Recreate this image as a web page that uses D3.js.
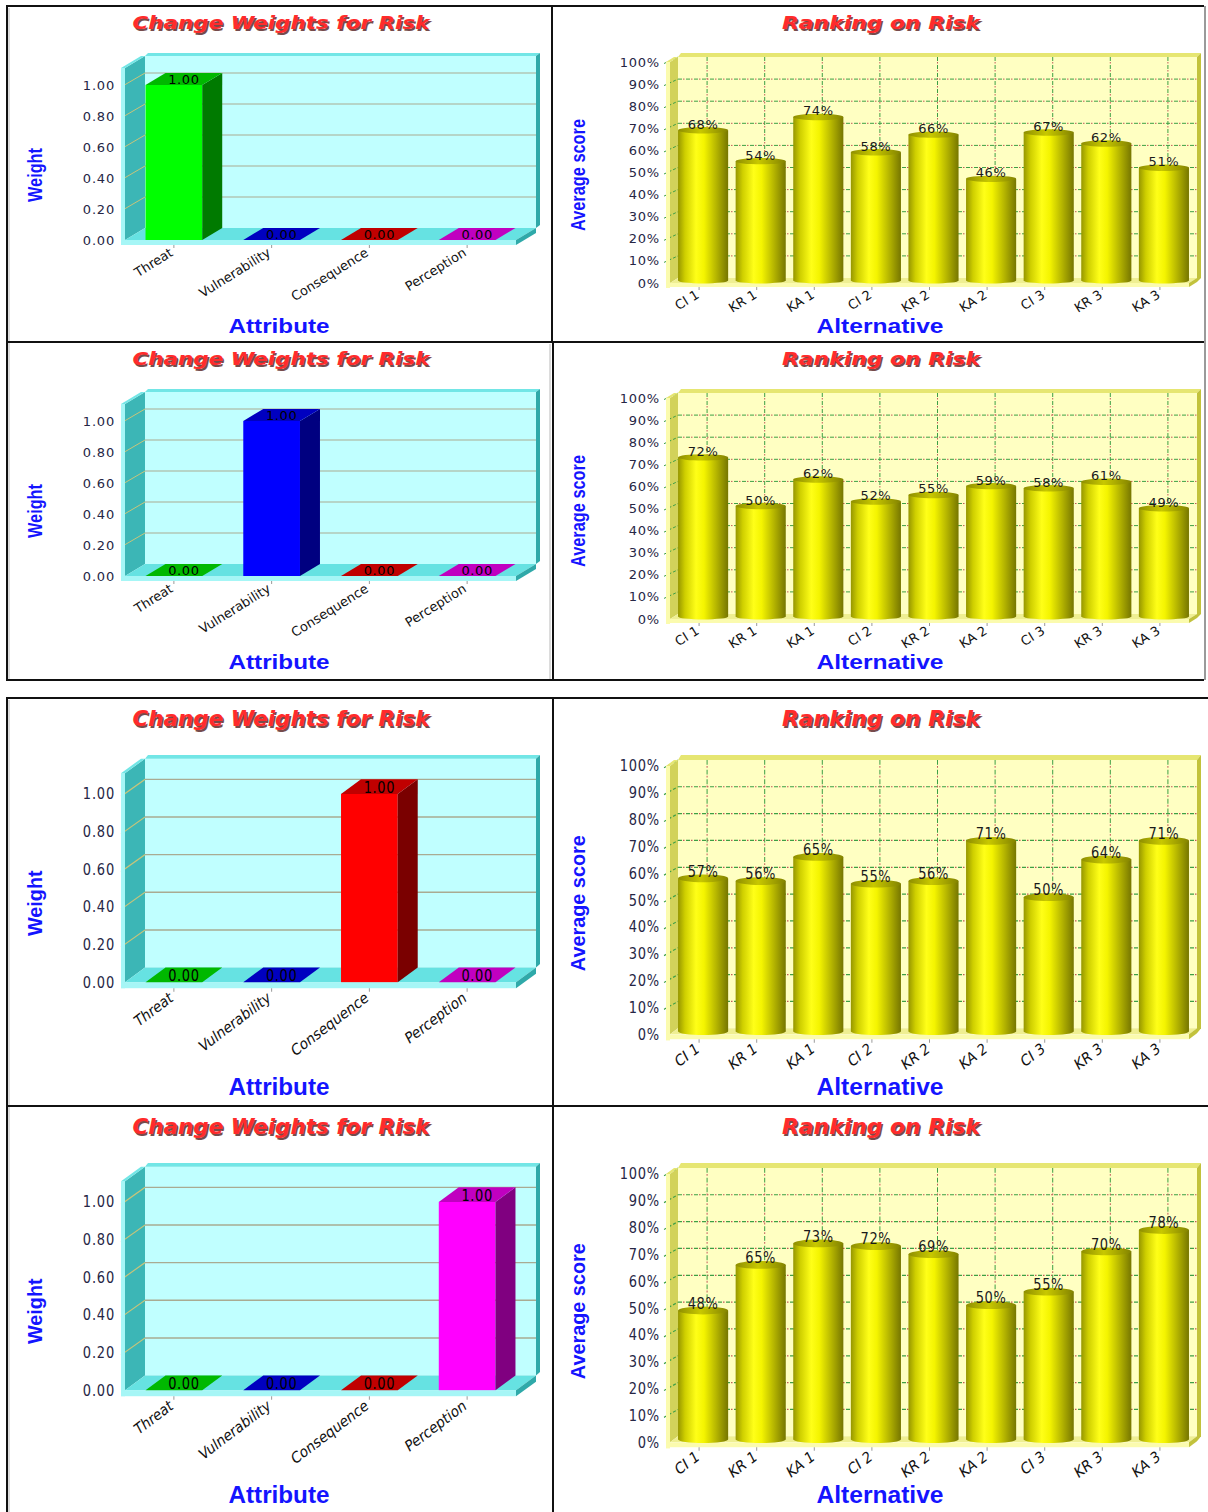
<!DOCTYPE html>
<html>
<head>
<meta charset="utf-8">
<script src="https://cdn.jsdelivr.net/npm/d3@7"></script>
<style>
  body { margin: 0; background: #ffffff; }
  svg { display: block; }
</style>
</head>
<body>
<script>
// ---------- data ----------
const attributes = ["Threat", "Vulnerability", "Consequence", "Perception"];
const weightTicks = [0, 0.2, 0.4, 0.6, 0.8, 1.0];
const alternatives = ["CI 1", "KR 1", "KA 1", "CI 2", "KR 2", "KA 2", "CI 3", "KR 3", "KA 3"];
const scoreTicks = [0, 10, 20, 30, 40, 50, 60, 70, 80, 90, 100];

// weight given to each attribute, one scenario per row
const weightsThreat        = [1, 0, 0, 0];
const weightsVulnerability = [0, 1, 0, 0];
const weightsConsequence   = [0, 0, 1, 0];
const weightsPerception    = [0, 0, 0, 1];

// resulting average score (%) of each alternative
const scoresThreat        = [68, 54, 74, 58, 66, 46, 67, 62, 51];
const scoresVulnerability = [72, 50, 62, 52, 55, 59, 58, 61, 49];
const scoresConsequence   = [57, 56, 65, 55, 56, 71, 50, 64, 71];
const scoresPerception    = [48, 65, 73, 72, 69, 50, 55, 70, 78];

const weightSeries = [weightsThreat, weightsVulnerability, weightsConsequence, weightsPerception];
const scoreSeries  = [scoresThreat, scoresVulnerability, scoresConsequence, scoresPerception];

// ---------- layout & style ----------
const rowLayout = [
  { top: 6,    sy: 1 },
  { top: 342,  sy: 1 },
  { top: 698,  sy: 408 / 336 },
  { top: 1106, sy: 408 / 336 }
];

const barColors = {
  "Threat":        { front: "#00ff00", top: "#00b800", side: "#007a00" },
  "Vulnerability": { front: "#0000ff", top: "#0000c0", side: "#000080" },
  "Consequence":   { front: "#ff0000", top: "#c00000", side: "#7a0000" },
  "Perception":    { front: "#ff00ff", top: "#c000c0", side: "#800080" }
};

const cyanBox = {
  back: "#c0ffff", left: "#3cb6b6", floor: "#66e2e2",
  slabFront: "#a6f6f6", slabTop: "#72e6e6", slabSide: "#2fa9a9", grid: "#a9ab92", leftGrid: "#c8c47a"
};
const yellowBox = {
  back: "#ffffc2", left: "#d2d25a", floor: "#efef92",
  slabFront: "#fbfbae", slabTop: "#e6e672", slabSide: "#c2c23c"
};

const titleFont = "'DejaVu Sans', sans-serif";
const labelFont = "'DejaVu Sans', sans-serif";

const svg = d3.select("body").append("svg")
  .attr("width", 1208).attr("height", 1512)
  .style("background", "#ffffff");

const defs = svg.append("defs");

// cylinder shading
const bodyGrad = defs.append("linearGradient").attr("id", "cylBody")
  .attr("x1", 0).attr("x2", 1).attr("y1", 0).attr("y2", 0);
[[0, "#969600"], [0.14, "#cfcf00"], [0.36, "#ffff18"], [0.52, "#f4f400"], [0.76, "#b6b600"], [1, "#767600"]]
  .forEach(([o, c]) => bodyGrad.append("stop").attr("offset", o).attr("stop-color", c));
const topGrad = defs.append("linearGradient").attr("id", "cylTop")
  .attr("x1", 0).attr("x2", 1).attr("y1", 0).attr("y2", 0);
[[0, "#8e8e00"], [0.45, "#c8c800"], [1, "#838300"]]
  .forEach(([o, c]) => topGrad.append("stop").attr("offset", o).attr("stop-color", c));

const poly = pts => pts.map(p => p.join(",")).join(" ");

function title(g, x, y, str, len) {
  g.append("text").attr("x", x + 1.6).attr("y", y + 1.6)
    .attr("text-anchor", "middle").attr("font-family", titleFont)
    .attr("font-weight", "bold").attr("font-style", "italic").attr("font-size", 18)
    .attr("textLength", len).attr("lengthAdjust", "spacingAndGlyphs")
    .attr("fill", "#4a1010").attr("opacity", 0.75).text(str);
  g.append("text").attr("x", x).attr("y", y)
    .attr("text-anchor", "middle").attr("font-family", titleFont)
    .attr("font-weight", "bold").attr("font-style", "italic").attr("font-size", 18)
    .attr("textLength", len).attr("lengthAdjust", "spacingAndGlyphs")
    .attr("fill", "#ff2b2b").text(str);
}

function axisTitle(g, x, y, str, len, rotate) {
  const t = g.append("text")
    .attr("text-anchor", "middle").attr("font-family", "'Liberation Sans', Arial, sans-serif")
    .attr("font-weight", "bold").attr("font-size", 20)
    .attr("textLength", len).attr("lengthAdjust", "spacingAndGlyphs")
    .attr("fill", "#1414ff").text(str);
  if (rotate) t.attr("transform", `translate(${x},${y}) rotate(-90)`);
  else t.attr("x", x).attr("y", y);
}

// ---------- left chart: weights per attribute (3D bars) ----------
function drawWeights(g, values) {
  const X0 = 125, X1 = 516, DX = 20, DY = -12, T = 4;
  const yW = d3.scaleLinear().domain([0, 1]).range([234, 79]);
  const xA = d3.scaleBand().domain(attributes).range([X0, X1]).paddingInner(0.42).paddingOuter(0.21);
  const yTop = yW(1.11), y0 = yW(0);
  const c = cyanBox;

  title(g, 281, 23, "Change Weights for Risk", 297);

  // back wall
  g.append("rect").attr("x", X0 + DX).attr("y", yTop + DY)
    .attr("width", X1 - X0).attr("height", y0 - yTop).attr("fill", c.back);
  // back wall slab: top and right faces
  g.append("polygon").attr("fill", c.slabTop).attr("points", poly([
    [X0 + DX, yTop + DY], [X0 + DX + 3, yTop + DY - 3], [X1 + DX + 4, yTop + DY - 3], [X1 + DX, yTop + DY]]));
  g.append("polygon").attr("fill", c.slabSide).attr("points", poly([
    [X1 + DX, yTop + DY], [X1 + DX + 4, yTop + DY - 3], [X1 + DX + 4, y0 + DY - 3], [X1 + DX, y0 + DY]]));

  // grid on back wall
  weightTicks.filter(t => t > 0).forEach(t => {
    g.append("line").attr("x1", X0 + DX).attr("x2", X1 + DX)
      .attr("y1", yW(t) + DY).attr("y2", yW(t) + DY)
      .attr("stroke", c.grid).attr("stroke-width", 1.2);
  });

  // left wall with its grid
  g.append("polygon").attr("fill", c.left).attr("points", poly([
    [X0, yTop], [X0 + DX, yTop + DY], [X0 + DX, y0 + DY], [X0, y0]]));
  weightTicks.filter(t => t > 0).forEach(t => {
    g.append("line").attr("x1", X0 - T).attr("y1", yW(t) + 2)
      .attr("x2", X0 + DX).attr("y2", yW(t) + DY)
      .attr("stroke", c.leftGrid).attr("stroke-width", 1);
  });
  // left wall slab front + top
  g.append("rect").attr("x", X0 - T).attr("y", yTop).attr("width", T).attr("height", y0 - yTop + 5)
    .attr("fill", c.slabFront);
  g.append("polygon").attr("fill", c.slabTop).attr("points", poly([
    [X0 - T, yTop], [X0 - T + DX, yTop + DY], [X0 + DX, yTop + DY], [X0, yTop]]));

  // floor
  g.append("polygon").attr("fill", c.floor).attr("points", poly([
    [X0, y0], [X0 + DX, y0 + DY], [X1 + DX, y0 + DY], [X1, y0]]));
  g.append("rect").attr("x", X0 - T).attr("y", y0).attr("width", X1 - X0 + T).attr("height", 5)
    .attr("fill", c.slabFront);
  g.append("polygon").attr("fill", c.slabSide).attr("points", poly([
    [X1, y0], [X1 + DX, y0 + DY], [X1 + DX, y0 + DY + 5], [X1, y0 + 5]]));

  // tick labels
  weightTicks.forEach(t => {
    g.append("text").attr("x", 115).attr("y", yW(t) + 4.5)
      .attr("text-anchor", "end").attr("font-family", labelFont).attr("font-size", 13)
      .attr("letter-spacing", 0.8).attr("fill", "#262645").text(t.toFixed(2));
  });

  // bars
  attributes.forEach((a, i) => {
    const v = values[i];
    const col = barColors[a];
    const x = xA(a), w = xA.bandwidth(), yT = yW(v);
    if (v > 0) {
      g.append("rect").attr("x", x).attr("y", yT).attr("width", w).attr("height", y0 - yT)
        .attr("fill", col.front);
      g.append("polygon").attr("fill", col.side).attr("points", poly([
        [x + w, yT], [x + w + DX, yT + DY], [x + w + DX, y0 + DY], [x + w, y0]]));
    }
    g.append("polygon").attr("fill", col.top).attr("points", poly([
      [x, yT], [x + DX, yT + DY], [x + w + DX, yT + DY], [x + w, yT]]));
    g.append("text").attr("x", x + w / 2 + DX / 2).attr("y", yT + DY / 2 + 5)
      .attr("text-anchor", "middle").attr("font-family", labelFont).attr("font-size", 13)
      .attr("letter-spacing", 0.6).attr("fill", "#000").text(v.toFixed(2));
  });

  // category ticks and labels
  attributes.forEach(a => {
    const cx = xA(a) + xA.bandwidth() / 2;
    g.append("line").attr("x1", cx).attr("x2", cx).attr("y1", y0 + 5).attr("y2", y0 + 8)
      .attr("stroke", "#9a9a9a").attr("stroke-width", 1);
    g.append("text")
      .attr("transform", `translate(${cx},${y0 + 15}) rotate(-32)`)
      .attr("text-anchor", "end").attr("font-family", labelFont).attr("font-size", 13)
      .attr("fill", "#111").text(a);
  });

  axisTitle(g, 279, 327, "Attribute", 101, false);
  axisTitle(g, 42, 169, "Weight", 54, true);
}

// ---------- right chart: average score per alternative (cylinders) ----------
function drawScores(g, values) {
  const X0 = 670, X1 = 1189, DX = 8, DY = -5, T = 4;
  const yS = d3.scaleLinear().domain([0, 100]).range([277, 56]);
  const xS = d3.scaleBand().domain(alternatives).range([X0, X1]).paddingInner(0.13).paddingOuter(0.07);
  const yTop = yS(100), y0 = yS(0);
  const c = yellowBox;

  title(g, 881, 23, "Ranking on Risk", 198);

  // back wall
  g.append("rect").attr("x", X0 + DX).attr("y", yTop + DY)
    .attr("width", X1 - X0).attr("height", y0 - yTop).attr("fill", c.back);
  g.append("polygon").attr("fill", c.slabTop).attr("points", poly([
    [X0 + DX, yTop + DY], [X0 + DX + 3, yTop + DY - 4], [X1 + DX + 4, yTop + DY - 4], [X1 + DX, yTop + DY]]));
  g.append("polygon").attr("fill", c.slabSide).attr("points", poly([
    [X1 + DX, yTop + DY], [X1 + DX + 4, yTop + DY - 4], [X1 + DX + 4, y0 + DY], [X1 + DX, y0 + DY + 4]]));

  // dashed grid: green dashes with red dots between
  const dashed = (x1, y1, x2, y2) => {
    g.append("line").attr("x1", x1).attr("y1", y1).attr("x2", x2).attr("y2", y2)
      .attr("stroke", "#3d9f45").attr("stroke-width", 1).attr("stroke-dasharray", "4,4");
    g.append("line").attr("x1", x1).attr("y1", y1).attr("x2", x2).attr("y2", y2)
      .attr("stroke", "#c2585a").attr("stroke-width", 1).attr("stroke-dasharray", "1.5,6.5")
      .attr("stroke-dashoffset", -5);
  };
  scoreTicks.filter(t => t > 0 && t < 100).forEach(t => dashed(X0 + DX, yS(t) + DY, X1 + DX, yS(t) + DY));
  alternatives.forEach(a => {
    const cx = xS(a) + xS.bandwidth() / 2 + DX;
    dashed(cx, yTop + DY, cx, y0 + DY);
  });

  // left wall
  g.append("polygon").attr("fill", c.left).attr("points", poly([
    [X0, yTop], [X0 + DX, yTop + DY], [X0 + DX, y0 + DY], [X0, y0]]));
  scoreTicks.filter(t => t > 0).forEach(t => {
    g.append("line").attr("x1", X0 - T - 2).attr("y1", yS(t) + 1.5).attr("x2", X0 + DX).attr("y2", yS(t) + DY)
      .attr("stroke", "#3d9f45").attr("stroke-width", 1).attr("stroke-dasharray", "3,2");
  });
  g.append("rect").attr("x", X0 - T).attr("y", yTop).attr("width", T).attr("height", y0 - yTop + 5)
    .attr("fill", c.slabFront);
  g.append("polygon").attr("fill", c.slabTop).attr("points", poly([
    [X0 - T, yTop], [X0 - T + DX, yTop + DY], [X0 + DX, yTop + DY], [X0, yTop]]));

  // floor
  g.append("polygon").attr("fill", c.floor).attr("points", poly([
    [X0, y0], [X0 + DX, y0 + DY], [X1 + DX, y0 + DY], [X1, y0]]));
  g.append("rect").attr("x", X0 - T).attr("y", y0).attr("width", X1 - X0 + T).attr("height", 4)
    .attr("fill", c.slabFront);
  g.append("polygon").attr("fill", c.slabSide).attr("points", poly([
    [X1, y0], [X1 + DX, y0 + DY], [X1 + DX, y0 + DY + 4], [X1, y0 + 4]]));

  // tick labels
  scoreTicks.forEach(t => {
    g.append("text").attr("x", 660).attr("y", yS(t) + 4.5)
      .attr("text-anchor", "end").attr("font-family", labelFont).attr("font-size", 13)
      .attr("letter-spacing", 0.8).attr("fill", "#262645").text(t + "%");
  });

  // cylinders
  alternatives.forEach((a, i) => {
    const v = values[i];
    const w = xS.bandwidth();
    const x = xS(a) + DX / 2;
    const yT = yS(v) + DY / 2, yB = y0 + DY / 2;
    g.append("ellipse").attr("cx", x + w / 2).attr("cy", yB).attr("rx", w / 2).attr("ry", 3)
      .attr("fill", "url(#cylBody)");
    g.append("rect").attr("x", x).attr("y", yT).attr("width", w).attr("height", yB - yT)
      .attr("fill", "url(#cylBody)");
    g.append("ellipse").attr("cx", x + w / 2).attr("cy", yT).attr("rx", w / 2).attr("ry", 3.2)
      .attr("fill", "url(#cylTop)");
    g.append("text").attr("x", x + w / 2).attr("y", yT - 1.5)
      .attr("text-anchor", "middle").attr("font-family", labelFont).attr("font-size", 13)
      .attr("letter-spacing", 0.6).attr("fill", "#1a1a1a").text(v + "%");
  });

  // category ticks and labels
  alternatives.forEach(a => {
    const cx = xS(a) + xS.bandwidth() / 2;
    g.append("line").attr("x1", cx).attr("x2", cx).attr("y1", y0 + 4).attr("y2", y0 + 7)
      .attr("stroke", "#9a9a9a").attr("stroke-width", 1);
    g.append("text")
      .attr("transform", `translate(${cx + 1},${y0 + 14}) rotate(-32)`)
      .attr("text-anchor", "end").attr("font-family", labelFont).attr("font-size", 13)
      .attr("fill", "#111").text(a);
  });

  axisTitle(g, 880, 327, "Alternative", 127, false);
  axisTitle(g, 585, 169, "Average score", 112, true);
}

// ---------- assemble rows ----------
rowLayout.forEach((row, r) => {
  const g = svg.append("g").attr("transform", `translate(0,${row.top}) scale(1,${row.sy})`);
  drawWeights(g.append("g"), weightSeries[r]);
  drawScores(g.append("g"), scoreSeries[r]);
});

// ---------- frames ----------
const frames = svg.append("g").attr("fill", "none");
const frameLine = (x1, y1, x2, y2, col, wdt) =>
  frames.append("line").attr("x1", x1).attr("y1", y1).attr("x2", x2).attr("y2", y2)
    .attr("stroke", col).attr("stroke-width", wdt);
// soft grey shadows
frameLine(9, 8, 9, 679, "#b8b8b8", 1);
frameLine(550, 344, 550, 679, "#b8b8b8", 1);
frameLine(9, 700, 9, 1512, "#b8b8b8", 1);
frameLine(1205, 6, 1205, 680, "#9a9a9a", 2);
// top block
frameLine(6, 6, 1204, 6, "#111", 2);
frameLine(7, 5, 7, 681, "#111", 2);
frameLine(6, 680, 1204, 680, "#111", 2);
frameLine(6, 342, 1204, 342, "#111", 2);
frameLine(552, 6, 552, 342, "#111", 2);
frameLine(553, 342, 553, 680, "#111", 2);
// bottom block
frameLine(6, 698, 1208, 698, "#111", 2);
frameLine(7, 697, 7, 1512, "#111", 2);
frameLine(6, 1106, 1208, 1106, "#111", 2);
frameLine(553, 698, 553, 1512, "#111", 2);
</script>
</body>
</html>
